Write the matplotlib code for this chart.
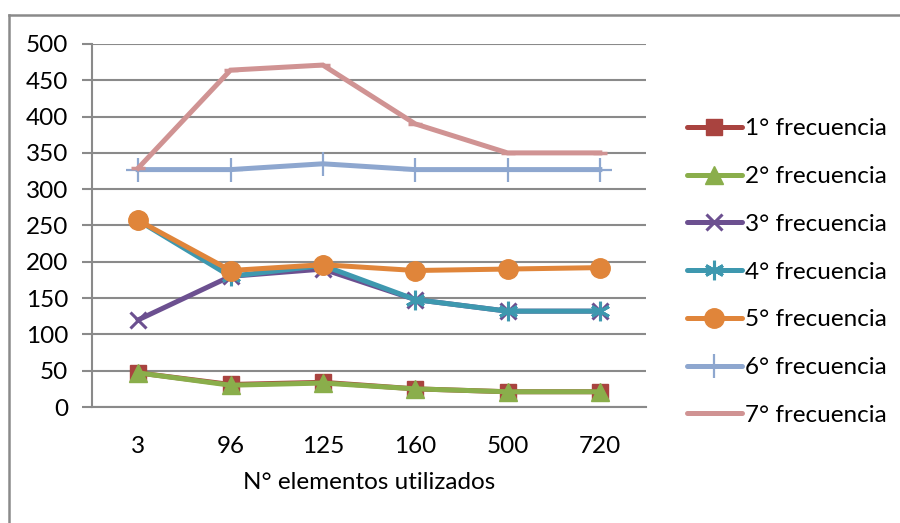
import matplotlib
matplotlib.use('Agg')
import matplotlib.pyplot as plt
from matplotlib.lines import Line2D

plt.rcParams['font.family'] = ['Lato', 'DejaVu Sans']

# elementos utilizados en cada modelo
elementos = ['3', '96', '125', '160', '500', '720']

frec_1 = [47, 31, 34, 25, 21, 21]
frec_2 = [47, 30, 33, 25, 21, 21]
frec_3 = [120, 180, 190, 148, 132, 132]
frec_4 = [257, 180, 195, 148, 132, 132]
frec_5 = [257, 188, 196, 188, 190, 192]
frec_6 = [327, 327, 335, 327, 327, 327]
frec_7 = [329, 464, 471, 390, 350, 350]

nombres = ['1° frecuencia', '2° frecuencia', '3° frecuencia', '4° frecuencia',
           '5° frecuencia', '6° frecuencia', '7° frecuencia']
series = [frec_1, frec_2, frec_3, frec_4, frec_5, frec_6, frec_7]
colores = ['#A9433F', '#8AAE4B', '#6C5090', '#3E98AF', '#E0853A', '#8EA7CF', '#D09393']
marcadores = ['s', '^', 'x', (6, 2, 0), 'o', '+', '_']
tam = [12, 13, 12, 14, 14, 17, 10]
mew = [1, 1, 2.2, 2.2, 1, 1.6, 2.5]

fig = plt.figure(figsize=(9, 5.23), dpi=100)
ax = fig.add_axes([92/900, 1-407/523, (646-92)/900, (407-44)/523])

x = list(range(len(elementos)))
handles = []
for s, nom, c, m, ms, w in zip(series, nombres, colores, marcadores, tam, mew):
    ax.plot(x, s, color=c, lw=3.6, marker=m, markersize=ms,
            markeredgewidth=w, markeredgecolor=c, markerfacecolor=c,
            label=nom, solid_joinstyle='miter')
    handles.append(Line2D([], [], color=c, lw=3.6, marker=m if m != '_' else None,
                          markersize=ms, markeredgewidth=w, markeredgecolor=c,
                          markerfacecolor=c, solid_capstyle='round'))

ax.set_xlim(-0.5, len(elementos) - 0.5)
ax.set_ylim(0, 500)
ax.set_yticks(range(0, 501, 50))
ax.set_xticks(x)
ax.set_xticklabels(elementos)
ax.grid(axis='y', color='#8a8a8a', lw=1.5)
ax.set_axisbelow(True)
for lado in ['top', 'right']:
    ax.spines[lado].set_visible(False)
for lado in ['left', 'bottom']:
    ax.spines[lado].set_color('#8a8a8a')
    ax.spines[lado].set_linewidth(1.5)
ax.tick_params(axis='y', length=7, width=1.5, color='#8a8a8a', pad=10, labelsize=17.5)
ax.tick_params(axis='x', length=0, pad=21, labelsize=17.5)
ax.set_xlabel('N° elementos utilizados', fontsize=17.5, labelpad=11)

ax.legend(handles, nombres, loc='center left', bbox_to_anchor=(687/900, 1-272/523),
          bbox_transform=fig.transFigure, frameon=False, fontsize=17.5,
          handlelength=2.26, handletextpad=0.12, labelspacing=1.1,
          borderpad=0, borderaxespad=0)

# marco exterior del grafico
fig.add_artist(Line2D([9/900, 1], [1-15/523, 1-15/523], color='#8a8a8a', lw=1.8))
fig.add_artist(Line2D([9/900, 9/900], [0, 1-15/523], color='#8a8a8a', lw=1.8))

fig.savefig('out.png', dpi=100)
